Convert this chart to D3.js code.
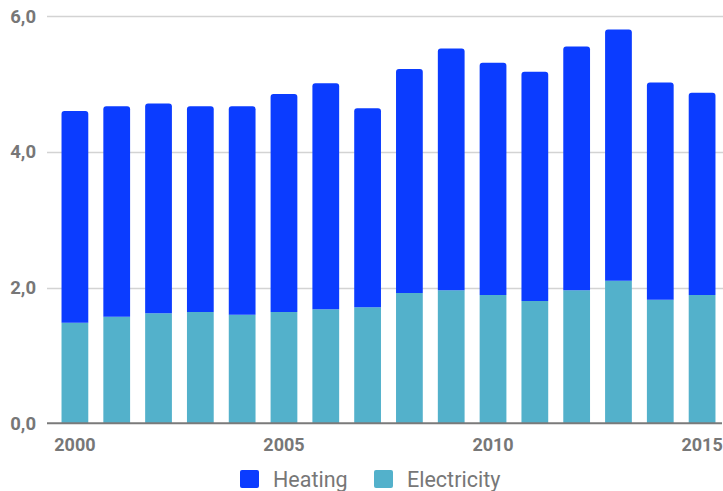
<!DOCTYPE html>
<html>
<head>
<meta charset="utf-8">
<script src="https://cdn.jsdelivr.net/npm/d3@7"></script>
<style>
  html, body { margin: 0; padding: 0; background: #fff; }
  svg { display: block; font-family: Roboto, "Noto Sans", sans-serif; }
</style>
</head>
<body>
<svg id="chart" width="723" height="491"></svg>
<script>
const years = [2000, 2001, 2002, 2003, 2004, 2005, 2006, 2007, 2008, 2009, 2010, 2011, 2012, 2013, 2014, 2015];
const electricity = [1.48, 1.57, 1.62, 1.64, 1.60, 1.64, 1.68, 1.71, 1.92, 1.96, 1.89, 1.80, 1.96, 2.10, 1.82, 1.89];
const heating = [3.12, 3.10, 3.09, 3.03, 3.07, 3.21, 3.33, 2.93, 3.30, 3.56, 3.42, 3.38, 3.59, 3.70, 3.20, 2.98];
const yTicks = [0, 2, 4, 6];
const xTickLabels = [2000, 2005, 2010, 2015];
const seriesNames = ["Heating", "Electricity"];
const seriesColors = ["#0b3cff", "#53b1cb"];

const svg = d3.select("#chart");
const plotLeft = 47, plotRight = 723, bandLeft = 54;

const x = d3.scaleBand().domain(years).range([bandLeft, 723]).paddingInner(0.36).paddingOuter(0.18);
const y = d3.scaleLinear().domain([0, 6]).range([423.3, 16]);

const data = years.map((yr, i) => ({ year: yr, Electricity: electricity[i], Heating: heating[i] }));
const stack = d3.stack().keys(["Electricity", "Heating"]);
const layers = stack(data);

// gridlines
svg.append("g").selectAll("line").data(yTicks.filter(d => d !== 0)).join("line")
  .attr("x1", plotLeft).attr("x2", plotRight)
  .attr("y1", d => Math.round(y(d)) + 0.5).attr("y2", d => Math.round(y(d)) + 0.5)
  .attr("stroke", "#d3d3d3").attr("stroke-width", 1.5);

// y labels
svg.append("g").selectAll("text").data(yTicks).join("text")
  .attr("x", 36).attr("y", d => y(d)).attr("dy", "0.36em")
  .attr("text-anchor", "end")
  .attr("font-size", 18.5).attr("font-weight", "bold").attr("fill", "#777")
  .text(d => d3.format(".1f")(d).replace(".", ","));

// bars
const colorOf = { Electricity: seriesColors[1], Heating: seriesColors[0] };
const r = 3;
layers.forEach(layer => {
  const key = layer.key;
  const g = svg.append("g");
  g.selectAll("path").data(layer).join("path")
    .attr("fill", colorOf[key])
    .attr("d", d => {
      const x0 = x(d.data.year), w = x.bandwidth();
      const yt = y(d[1]), yb = y(d[0]);
      if (key === "Heating") {
        return `M${x0},${yb}V${yt + r}Q${x0},${yt} ${x0 + r},${yt}H${x0 + w - r}Q${x0 + w},${yt} ${x0 + w},${yt + r}V${yb}Z`;
      }
      return `M${x0},${yb}V${yt}H${x0 + w}V${yb}Z`;
    });
});

// baseline
svg.append("line")
  .attr("x1", plotLeft).attr("x2", 722)
  .attr("y1", y(0)).attr("y2", y(0))
  .attr("stroke", "#7a7a7a").attr("stroke-width", 2);

// x labels
svg.append("g").selectAll("text").data(xTickLabels).join("text")
  .attr("x", d => x(d) + x.bandwidth() / 2).attr("y", 451)
  .attr("text-anchor", "middle")
  .attr("font-size", 18).attr("font-weight", "bold").attr("fill", "#777")
  .text(d => d);

// legend
const legendItems = [
  { name: seriesNames[0], color: seriesColors[0], sx: 240, tx: 273 },
  { name: seriesNames[1], color: seriesColors[1], sx: 374, tx: 407 }
];
const lg = svg.append("g");
legendItems.forEach(it => {
  lg.append("rect").attr("x", it.sx).attr("y", 470).attr("width", 19).attr("height", 18)
    .attr("rx", 2).attr("fill", it.color);
  lg.append("text").attr("x", it.tx).attr("y", 487)
    .attr("font-size", 21.5).attr("fill", "#777").text(it.name);
});
</script>
</body>
</html>
